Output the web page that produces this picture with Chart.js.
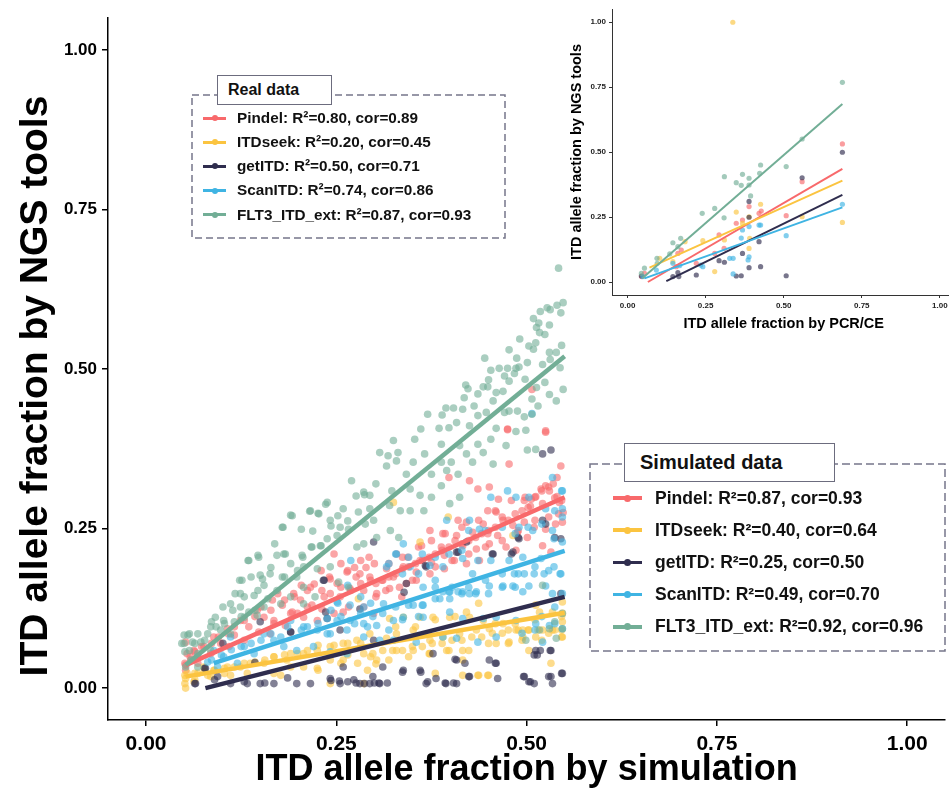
<!DOCTYPE html>
<html><head><meta charset="utf-8">
<script src="https://cdn.jsdelivr.net/npm/chart.js@4.4.1/dist/chart.umd.min.js"></script>
<style>
html,body{margin:0;padding:0;width:949px;height:792px;overflow:hidden;background:#fff;font-family:"Liberation Sans",Arial,sans-serif;}
#main{position:absolute;left:0;top:0;}
#inset{position:absolute;left:556px;top:0;}
#frames{position:absolute;left:0;top:0;}
.tab{position:absolute;background:#fff;border:1.5px solid #6c6c7e;font-weight:bold;color:#111;box-sizing:border-box;display:flex;align-items:center;}
.row{position:absolute;font-weight:bold;color:#111;white-space:nowrap;}
.key{position:absolute;}
.key .ln{position:absolute;left:0;right:0;top:50%;}
.key .dt{position:absolute;left:50%;top:50%;border-radius:50%;}
</style></head><body>
<canvas id="main" width="949" height="792"></canvas>
<canvas id="inset" width="402" height="340"></canvas>
<svg id="frames" width="949" height="792"></svg>
<div id="legends"></div>
<script>
// ---------- names, stats, ticks, titles ----------
const toolNames = ['Pindel','ITDseek','getITD','ScanITD','FLT3_ITD_ext'];
const toolColors = ['#F8696B','#FBC440','#2F2D4E','#3FB4E3','#72AE96'];
const realR2  = ['0.80','0.20','0.50','0.74','0.87'];
const realCor = ['0.89','0.45','0.71','0.86','0.93'];
const simR2   = ['0.87','0.40','0.25','0.49','0.92'];
const simCor  = ['0.93','0.64','0.50','0.70','0.96'];
const xTicks = [0, 0.25, 0.5, 0.75, 1];
const yTicks = [0, 0.25, 0.5, 0.75, 1];
const mainXTitle = 'ITD allele fraction by simulation';
const mainYTitle = 'ITD allele fraction by NGS tools';
const insetXTitle = 'ITD allele fraction by PCR/CE';
const insetYTitle = 'ITD allele fraction by NGS tools';

// ---------- simulated data (main panel) ----------
const simPindel = [[0.525,0.401],[0.475,0.406],[0.545,0.348],[0.477,0.351],[0.436,0.312],[0.451,0.315],[0.525,0.317],[0.519,0.312],[0.530,0.309],[0.425,0.325],[0.398,0.330],[0.506,0.296],[0.497,0.294],[0.543,0.291],[0.521,0.289],[0.449,0.278],[0.460,0.276],[0.410,0.263],[0.421,0.260],[0.443,0.257],[0.469,0.263],[0.482,0.255],[0.497,0.260],[0.510,0.252],[0.525,0.249],[0.538,0.257],[0.547,0.260],[0.373,0.247],[0.390,0.242],[0.408,0.239],[0.429,0.244],[0.449,0.242],[0.462,0.239],[0.488,0.244],[0.501,0.236],[0.362,0.223],[0.375,0.231],[0.388,0.221],[0.416,0.223],[0.434,0.218],[0.451,0.226],[0.473,0.221],[0.486,0.216],[0.521,0.223],[0.532,0.213],[0.329,0.210],[0.344,0.205],[0.360,0.200],[0.375,0.197],[0.392,0.208],[0.405,0.200],[0.421,0.195],[0.438,0.200],[0.300,0.195],[0.316,0.187],[0.338,0.190],[0.355,0.182],[0.373,0.179],[0.392,0.187],[0.264,0.182],[0.281,0.179],[0.294,0.174],[0.310,0.169],[0.325,0.174],[0.342,0.164],[0.355,0.169],[0.242,0.171],[0.251,0.164],[0.268,0.156],[0.286,0.153],[0.303,0.148],[0.320,0.156],[0.336,0.143],[0.216,0.158],[0.231,0.153],[0.242,0.148],[0.255,0.143],[0.266,0.127],[0.286,0.127],[0.299,0.117],[0.194,0.148],[0.203,0.138],[0.218,0.130],[0.231,0.124],[0.247,0.117],[0.259,0.119],[0.166,0.138],[0.179,0.130],[0.192,0.119],[0.207,0.111],[0.225,0.106],[0.146,0.122],[0.155,0.111],[0.168,0.106],[0.183,0.098],[0.124,0.106],[0.135,0.096],[0.148,0.088],[0.163,0.085],[0.107,0.093],[0.116,0.083],[0.129,0.075],[0.089,0.080],[0.098,0.070],[0.109,0.065],[0.076,0.065],[0.085,0.054],[0.063,0.059],[0.052,0.072],[0.054,0.054],[0.059,0.044],[0.052,0.036],[0.068,0.039],[0.052,0.028],[0.507,0.468],[0.475,0.405],[0.525,0.403],[0.540,0.330],[0.535,0.320],[0.512,0.300],[0.505,0.285],[0.548,0.275],[0.463,0.296],[0.540,0.300],
 [0.247,0.210],[0.256,0.195],[0.265,0.184],[0.276,0.174],[0.289,0.189],[0.282,0.200],[0.293,0.205],[0.295,0.169],[0.230,0.184],[0.241,0.174],[0.221,0.163],[0.212,0.153],[0.204,0.161],[0.195,0.143],[0.182,0.138],[0.173,0.148],[0.164,0.122],[0.151,0.127],[0.143,0.112],[0.129,0.106],[0.116,0.096],[0.108,0.085],[0.095,0.080],[0.086,0.070],[0.073,0.065],[0.064,0.057],[0.058,0.049],[0.051,0.039],[0.212,0.127],[0.199,0.117],[0.234,0.143],[0.256,0.158],[0.269,0.153],[0.282,0.164],[0.274,0.189],[0.190,0.117],[0.168,0.101],
 [0.546,0.294],[0.537,0.298],[0.529,0.315],[0.520,0.309],[0.511,0.299],[0.502,0.283],[0.494,0.278],[0.485,0.273],[0.476,0.263],[0.468,0.268],[0.459,0.252],[0.450,0.247],[0.441,0.242],[0.433,0.236],[0.424,0.231],[0.415,0.226],[0.406,0.231],[0.398,0.221],[0.389,0.216],[0.380,0.210],[0.372,0.205],[0.363,0.200],[0.354,0.195],[0.345,0.190],[0.337,0.187],[0.328,0.179],[0.319,0.174],[0.311,0.169],[0.302,0.164],[0.302,0.143],[0.315,0.153],[0.333,0.158],[0.350,0.169],[0.380,0.190],[0.402,0.200],[0.424,0.210],[0.446,0.221],[0.468,0.231],[0.489,0.247],[0.511,0.263],[0.529,0.268],[0.542,0.273],[0.498,0.299],[0.480,0.294],[0.459,0.278],[0.437,0.263],[0.415,0.252],[0.393,0.242],[0.358,0.221],[0.337,0.205],[0.319,0.195]];
const simITDseek = [[0.512,0.130],[0.547,0.135],[0.421,0.119],[0.517,0.119],[0.534,0.119],[0.547,0.117],[0.320,0.109],[0.338,0.111],[0.360,0.111],[0.377,0.111],[0.399,0.111],[0.425,0.111],[0.443,0.106],[0.469,0.101],[0.486,0.091],[0.495,0.091],[0.503,0.091],[0.521,0.091],[0.534,0.091],[0.547,0.080],[0.495,0.080],[0.512,0.080],[0.451,0.093],[0.434,0.091],[0.412,0.085],[0.390,0.080],[0.373,0.075],[0.395,0.059],[0.416,0.059],[0.460,0.070],[0.477,0.072],[0.351,0.091],[0.329,0.085],[0.316,0.078],[0.294,0.085],[0.277,0.075],[0.259,0.070],[0.329,0.059],[0.351,0.059],[0.373,0.054],[0.416,0.044],[0.503,0.059],[0.532,0.039],[0.436,0.020],[0.449,0.020],[0.242,0.065],[0.225,0.059],[0.207,0.054],[0.190,0.054],[0.286,0.054],[0.303,0.044],[0.259,0.044],[0.242,0.044],[0.225,0.031],[0.207,0.033],[0.185,0.044],[0.168,0.049],[0.155,0.039],[0.137,0.039],[0.124,0.033],[0.107,0.033],[0.089,0.028],[0.076,0.033],[0.068,0.023],[0.054,0.023],[0.052,0.015],[0.052,0.000],[0.063,0.010],[0.085,0.018],[0.111,0.020],[0.133,0.023],[0.177,0.020],[0.242,0.007],[0.286,0.007],[0.416,0.020],[0.547,0.104],[0.482,0.239],[0.397,0.268],[0.360,0.229],[0.325,0.291],[0.279,0.140],
 [0.282,0.070],[0.265,0.070],[0.247,0.067],[0.226,0.067],[0.212,0.059],[0.199,0.054],[0.182,0.052],[0.168,0.049],[0.156,0.044],[0.143,0.041],[0.129,0.039],[0.116,0.033],[0.103,0.031],[0.090,0.028],[0.077,0.026],[0.064,0.023],[0.051,0.020],[0.051,0.007],[0.064,0.013],[0.081,0.020],[0.103,0.023],[0.168,0.023],[0.190,0.033],[0.226,0.028],[0.256,0.039],[0.278,0.039],[0.295,0.049],[0.291,0.028],[0.265,0.052],
 [0.546,0.091],[0.537,0.091],[0.529,0.086],[0.515,0.091],[0.502,0.091],[0.489,0.091],[0.476,0.091],[0.468,0.086],[0.455,0.086],[0.441,0.080],[0.428,0.080],[0.415,0.075],[0.402,0.075],[0.389,0.070],[0.376,0.070],[0.363,0.065],[0.350,0.065],[0.337,0.059],[0.324,0.059],[0.311,0.059],[0.298,0.054],[0.546,0.080],[0.520,0.075],[0.494,0.075],[0.476,0.070],[0.450,0.070],[0.424,0.059],[0.398,0.059],[0.372,0.054],[0.345,0.049],[0.319,0.044],[0.302,0.038],[0.546,0.112],[0.511,0.107],[0.485,0.101],[0.459,0.101],[0.437,0.133],[0.406,0.112],[0.380,0.107],[0.354,0.096],[0.328,0.096],[0.437,0.020],[0.450,0.020],[0.380,0.023]];
const simGetITD = [[0.521,0.367],[0.532,0.373],[0.521,0.263],[0.525,0.257],[0.490,0.234],[0.545,0.234],[0.482,0.213],[0.456,0.210],[0.408,0.213],[0.368,0.190],[0.299,0.229],[0.421,0.229],[0.342,0.164],[0.233,0.169],[0.281,0.124],[0.238,0.109],[0.190,0.088],[0.150,0.104],[0.255,0.091],[0.545,0.148],[0.299,0.075],[0.377,0.054],[0.408,0.044],[0.451,0.044],[0.460,0.039],[0.512,0.059],[0.532,0.059],[0.510,0.052],[0.259,0.033],[0.338,0.028],[0.360,0.028],[0.078,0.031],[0.094,0.018],[0.065,0.007],[0.111,0.007],[0.133,0.007],[0.150,0.007],[0.168,0.007],[0.198,0.007],[0.216,0.007],[0.242,0.015],[0.255,0.007],[0.273,0.013],[0.281,0.007],[0.294,0.007],[0.307,0.007],[0.368,0.007],[0.381,0.015],[0.394,0.007],[0.408,0.007],[0.425,0.018],[0.462,0.015],[0.497,0.018],[0.503,0.010],[0.510,0.007],[0.532,0.018],[0.534,0.007],[0.547,0.023],
 [0.064,0.007],[0.090,0.013],[0.129,0.010],[0.156,0.008],[0.186,0.016],[0.243,0.012],[0.254,0.011],[0.265,0.010],[0.276,0.008],[0.287,0.007],[0.143,0.040],[0.190,0.088],[0.236,0.119],[0.234,0.169],[0.101,0.070],[0.077,0.031],
 [0.367,0.192],[0.339,0.150],[0.410,0.213],[0.455,0.210],[0.489,0.236],[0.537,0.236],[0.480,0.210],[0.518,0.059],[0.531,0.059],[0.514,0.052],[0.406,0.045],[0.419,0.039],[0.459,0.039],[0.424,0.018],[0.496,0.018],[0.505,0.010],[0.529,0.018],[0.546,0.023],[0.300,0.008],[0.306,0.008],[0.317,0.008],[0.393,0.008],[0.404,0.008],[0.370,0.010],[0.311,0.033],[0.337,0.025],[0.361,0.025],[0.298,0.018]];
const simScanITD = [[0.534,0.330],[0.547,0.309],[0.475,0.309],[0.453,0.299],[0.486,0.299],[0.503,0.299],[0.525,0.281],[0.547,0.281],[0.547,0.268],[0.425,0.263],[0.438,0.249],[0.490,0.252],[0.508,0.247],[0.534,0.247],[0.547,0.229],[0.536,0.234],[0.395,0.263],[0.338,0.226],[0.329,0.210],[0.347,0.190],[0.316,0.190],[0.373,0.192],[0.390,0.190],[0.416,0.203],[0.436,0.200],[0.453,0.200],[0.477,0.200],[0.495,0.205],[0.519,0.203],[0.536,0.190],[0.484,0.179],[0.497,0.179],[0.510,0.179],[0.523,0.179],[0.545,0.179],[0.429,0.179],[0.364,0.158],[0.380,0.158],[0.416,0.151],[0.434,0.151],[0.451,0.160],[0.469,0.160],[0.482,0.160],[0.503,0.160],[0.525,0.160],[0.390,0.151],[0.399,0.151],[0.410,0.151],[0.425,0.148],[0.399,0.140],[0.386,0.140],[0.495,0.151],[0.534,0.148],[0.547,0.148],[0.364,0.130],[0.351,0.130],[0.312,0.132],[0.286,0.127],[0.268,0.130],[0.251,0.135],[0.238,0.109],[0.251,0.106],[0.268,0.106],[0.286,0.101],[0.303,0.098],[0.325,0.106],[0.338,0.111],[0.364,0.111],[0.399,0.119],[0.416,0.109],[0.443,0.109],[0.460,0.111],[0.486,0.106],[0.512,0.101],[0.530,0.098],[0.547,0.093],[0.190,0.106],[0.207,0.096],[0.225,0.091],[0.242,0.085],[0.264,0.091],[0.286,0.080],[0.307,0.075],[0.325,0.075],[0.355,0.072],[0.390,0.080],[0.408,0.078],[0.436,0.072],[0.460,0.080],[0.521,0.072],[0.155,0.085],[0.168,0.075],[0.181,0.065],[0.198,0.059],[0.220,0.065],[0.242,0.057],[0.264,0.054],[0.111,0.080],[0.129,0.065],[0.142,0.054],[0.089,0.059],[0.102,0.049],[0.081,0.041],[0.094,0.033],[0.120,0.039],[0.068,0.049],[0.507,0.430],
 [0.269,0.200],[0.265,0.161],[0.282,0.143],[0.295,0.133],[0.243,0.122],[0.256,0.112],[0.274,0.101],[0.291,0.096],[0.226,0.101],[0.212,0.096],[0.204,0.091],[0.186,0.096],[0.177,0.080],[0.164,0.085],[0.151,0.075],[0.138,0.070],[0.125,0.065],[0.112,0.060],[0.099,0.052],[0.086,0.044],[0.238,0.085],[0.282,0.117],[0.252,0.133],
 [0.546,0.309],[0.537,0.278],[0.520,0.257],[0.502,0.252],[0.485,0.242],[0.468,0.252],[0.446,0.247],[0.424,0.247],[0.415,0.216],[0.398,0.210],[0.380,0.205],[0.363,0.210],[0.345,0.205],[0.328,0.210],[0.319,0.195],[0.337,0.179],[0.358,0.179],[0.380,0.169],[0.402,0.158],[0.424,0.158],[0.446,0.169],[0.468,0.179],[0.489,0.179],[0.511,0.190],[0.529,0.184],[0.544,0.179],[0.485,0.158],[0.468,0.158],[0.450,0.148],[0.433,0.148],[0.415,0.148],[0.398,0.151],[0.380,0.140],[0.363,0.130],[0.345,0.130],[0.328,0.127],[0.311,0.117],[0.298,0.112],[0.319,0.091],[0.337,0.107],[0.358,0.112],[0.520,0.112],[0.537,0.101],[0.511,0.091],[0.494,0.086],[0.537,0.127]];
const simFLT3 = [[0.542,0.658],[0.548,0.604],[0.540,0.600],[0.527,0.596],[0.518,0.590],[0.531,0.593],[0.545,0.588],[0.509,0.579],[0.516,0.572],[0.530,0.569],[0.513,0.565],[0.524,0.554],[0.517,0.557],[0.491,0.547],[0.503,0.536],[0.512,0.541],[0.509,0.531],[0.546,0.537],[0.477,0.530],[0.487,0.517],[0.445,0.517],[0.464,0.501],[0.475,0.501],[0.486,0.501],[0.490,0.503],[0.453,0.498],[0.501,0.510],[0.530,0.526],[0.539,0.526],[0.521,0.507],[0.531,0.515],[0.544,0.502],[0.471,0.489],[0.484,0.493],[0.450,0.483],[0.477,0.481],[0.498,0.484],[0.420,0.475],[0.443,0.472],[0.449,0.472],[0.423,0.469],[0.524,0.479],[0.513,0.471],[0.436,0.461],[0.460,0.463],[0.469,0.465],[0.530,0.460],[0.548,0.468],[0.539,0.450],[0.418,0.455],[0.456,0.450],[0.507,0.453],[0.370,0.429],[0.389,0.428],[0.394,0.439],[0.404,0.439],[0.416,0.437],[0.431,0.442],[0.436,0.427],[0.447,0.432],[0.471,0.432],[0.477,0.434],[0.488,0.434],[0.497,0.425],[0.507,0.429],[0.515,0.442],[0.361,0.406],[0.385,0.407],[0.398,0.408],[0.408,0.416],[0.425,0.411],[0.460,0.407],[0.486,0.402],[0.499,0.404],[0.353,0.390],[0.325,0.388],[0.388,0.382],[0.412,0.380],[0.436,0.382],[0.453,0.390],[0.473,0.380],[0.501,0.373],[0.512,0.374],[0.307,0.369],[0.318,0.364],[0.331,0.369],[0.366,0.367],[0.421,0.367],[0.443,0.369],[0.316,0.348],[0.329,0.356],[0.351,0.354],[0.388,0.354],[0.401,0.354],[0.429,0.354],[0.456,0.351],[0.270,0.325],[0.302,0.320],[0.342,0.335],[0.375,0.335],[0.395,0.341],[0.410,0.335],[0.286,0.307],[0.294,0.302],[0.323,0.309],[0.347,0.312],[0.360,0.302],[0.375,0.299],[0.388,0.317],[0.399,0.289],[0.412,0.299],[0.216,0.278],[0.227,0.273],[0.238,0.291],[0.259,0.281],[0.279,0.276],[0.294,0.281],[0.320,0.286],[0.334,0.278],[0.347,0.278],[0.365,0.278],[0.179,0.252],[0.192,0.270],[0.242,0.263],[0.255,0.252],[0.266,0.249],[0.288,0.257],[0.299,0.263],[0.303,0.236],[0.321,0.247],[0.332,0.236],[0.135,0.200],[0.148,0.205],[0.172,0.208],[0.183,0.210],[0.205,0.208],[0.218,0.221],[0.229,0.223],[0.238,0.234],[0.251,0.239],[0.277,0.221],[0.286,0.226],[0.126,0.169],[0.150,0.177],[0.163,0.179],[0.179,0.174],[0.198,0.174],[0.207,0.190],[0.225,0.187],[0.242,0.190],[0.253,0.166],[0.266,0.158],[0.124,0.148],[0.142,0.145],[0.155,0.161],[0.172,0.153],[0.190,0.143],[0.207,0.158],[0.222,0.143],[0.111,0.132],[0.124,0.127],[0.135,0.119],[0.155,0.127],[0.177,0.132],[0.207,0.132],[0.091,0.111],[0.102,0.106],[0.116,0.104],[0.129,0.111],[0.146,0.114],[0.085,0.096],[0.098,0.091],[0.111,0.085],[0.081,0.085],[0.050,0.083],[0.057,0.085],[0.061,0.072],[0.072,0.072],[0.050,0.070],[0.057,0.059],[0.068,0.054],[0.085,0.059],[0.059,0.044],[0.052,0.033],[0.068,0.033],[0.517,0.091],[0.530,0.093],[0.547,0.093],[0.521,0.161],[0.547,0.117],[0.499,0.075],[0.539,0.078],
 [0.190,0.271],[0.215,0.277],[0.226,0.274],[0.236,0.288],[0.252,0.270],[0.180,0.252],[0.204,0.249],[0.219,0.246],[0.243,0.254],[0.265,0.262],[0.276,0.301],[0.287,0.303],[0.217,0.221],[0.230,0.223],[0.169,0.226],[0.181,0.210],[0.134,0.200],[0.147,0.208],[0.164,0.189],[0.190,0.195],[0.206,0.205],[0.123,0.169],[0.138,0.174],[0.153,0.171],[0.182,0.174],[0.199,0.184],[0.117,0.148],[0.129,0.143],[0.147,0.153],[0.160,0.140],[0.101,0.127],[0.114,0.122],[0.125,0.112],[0.143,0.122],[0.086,0.104],[0.092,0.096],[0.103,0.101],[0.068,0.085],[0.077,0.075],[0.055,0.083],[0.047,0.070],[0.051,0.057],[0.064,0.070],[0.537,0.104]];
// fitted regression lines (start, end)
const simFitPindel  = [[0.052,0.036],[0.550,0.299]];
const simFitITDseek = [[0.052,0.018],[0.550,0.118]];
const simFitGetITD  = [[0.078,0.000],[0.550,0.143]];
const simFitScanITD = [[0.089,0.039],[0.550,0.215]];
const simFitFLT3    = [[0.052,0.036],[0.550,0.520]];

// ---------- real data (inset) ----------
const realPindel = [[0.688,0.531],[0.559,0.386],[0.508,0.255],[0.421,0.264],[0.428,0.273],[0.389,0.290],[0.368,0.238],[0.348,0.226],[0.309,0.129],[0.293,0.181],[0.172,0.123],[0.161,0.110],[0.156,0.059],[0.054,0.033],[0.045,0.021],[0.220,0.072],[0.279,0.110]];
const realITDseek = [[0.337,0.999],[0.688,0.229],[0.559,0.251],[0.426,0.299],[0.348,0.269],[0.389,0.251],[0.368,0.226],[0.389,0.129],[0.391,0.168],[0.241,0.159],[0.279,0.040],[0.145,0.078],[0.103,0.091],[0.184,0.155],[0.310,0.162]];
const realGetITD = [[0.688,0.499],[0.559,0.401],[0.389,0.310],[0.389,0.249],[0.421,0.155],[0.426,0.059],[0.389,0.055],[0.368,0.110],[0.364,0.024],[0.348,0.023],[0.310,0.076],[0.293,0.082],[0.220,0.027],[0.145,0.021],[0.161,0.036],[0.164,0.021],[0.508,0.024],[0.044,0.023]];
const realScanITD = [[0.688,0.299],[0.508,0.178],[0.421,0.219],[0.426,0.219],[0.389,0.213],[0.368,0.200],[0.364,0.169],[0.389,0.097],[0.386,0.085],[0.338,0.091],[0.327,0.091],[0.338,0.031],[0.241,0.059],[0.234,0.065],[0.167,0.063],[0.145,0.072],[0.092,0.046],[0.049,0.021]];
const realFLT3 = [[0.688,0.768],[0.559,0.550],[0.508,0.444],[0.426,0.450],[0.423,0.418],[0.368,0.414],[0.348,0.382],[0.364,0.372],[0.389,0.399],[0.389,0.373],[0.394,0.331],[0.310,0.405],[0.279,0.283],[0.309,0.247],[0.239,0.264],[0.170,0.168],[0.145,0.151],[0.161,0.136],[0.135,0.108],[0.094,0.091],[0.095,0.072],[0.054,0.053],[0.044,0.033]];
const realFitPindel  = [[0.065,0.000],[0.688,0.435]];
const realFitITDseek = [[0.070,0.055],[0.688,0.390]];
const realFitGetITD  = [[0.124,0.003],[0.688,0.335]];
const realFitScanITD = [[0.054,0.014],[0.688,0.287]];
const realFitFLT3    = [[0.047,0.014],[0.688,0.685]];

// ---------- helpers ----------
function rgba(hex,a){const n=parseInt(hex.slice(1),16);return `rgba(${n>>16},${(n>>8)&255},${n&255},${a})`;}
const toXY = arr => arr.map(p=>({x:p[0],y:p[1]}));
const SANS = '"Liberation Sans",Arial,sans-serif';

function buildDatasets(pts, fits, ptRadius, alpha, lineW){
  const ds=[];
  pts.forEach((arr,i)=>ds.push({data:toXY(arr),backgroundColor:rgba(toolColors[i],alpha),borderWidth:0,pointRadius:ptRadius,pointHoverRadius:ptRadius,order:10-i}));
  fits.forEach((arr,i)=>ds.push({data:toXY(arr),showLine:true,borderColor:toolColors[i],borderWidth:lineW,pointRadius:0,fill:false,order:4-i}));
  return ds;
}
function axis(ticks, o){
  return {
    type:'linear', min:-0.05, max:1.05,
    afterBuildTicks:s=>{s.ticks=ticks.map(v=>({value:v}));},
    ticks:{callback:v=>Number(v).toFixed(2),color:o.tickColor,font:o.tickFont,padding:o.tickPad,maxRotation:0,autoSkip:false},
    grid:{drawOnChartArea:false,drawTicks:true,tickLength:o.tickLen,color:o.lineColor,lineWidth:o.lineW},
    border:{display:true,color:o.lineColor,width:o.lineW},
    title:{display:!!o.title,text:o.title||'',color:'#000',font:o.titleFont,padding:o.titlePad},
    afterFit:o.afterFit
  };
}
// rotated y-axis title for the main panel (placed a bit below the axis centre, as in the source figure)
const mainYTitlePlugin = {id:'mainYTitle', afterDraw(chart){
  const c=chart.ctx; c.save(); c.translate(36,386); c.rotate(-Math.PI/2);
  c.font='bold 39px '+SANS; c.fillStyle='#000'; c.textAlign='center'; c.textBaseline='middle';
  c.fillText(mainYTitle,0,0); c.restore();
}};

// ---------- main chart ----------
new Chart(document.getElementById('main'),{
  type:'scatter',
  data:{datasets:buildDatasets([simPindel,simITDseek,simGetITD,simScanITD,simFLT3],[simFitPindel,simFitITDseek,simFitGetITD,simFitScanITD,simFitFLT3],3.8,0.6,4.5)},
  options:{
    responsive:false, animation:false, events:[],
    layout:{padding:{left:0,right:1,top:18,bottom:0}},
    plugins:{legend:{display:false},tooltip:{enabled:false}},
    scales:{
      x:axis(xTicks,{tickColor:'#000',tickFont:{family:SANS,weight:'bold',size:21},tickPad:6,tickLen:6,lineColor:'#000',lineW:1.5,
        title:mainXTitle,titleFont:{family:SANS,weight:'bold',size:36},titlePad:{top:0,bottom:0},afterFit:s=>{s.height=72;}}),
      y:axis(yTicks,{tickColor:'#000',tickFont:{family:SANS,weight:'bold',size:17},tickPad:5,tickLen:6,lineColor:'#000',lineW:1.5,
        title:'',afterFit:s=>{s.width=108;}})
    }
  },
  plugins:[mainYTitlePlugin]
});

// ---------- inset chart ----------
new Chart(document.getElementById('inset'),{
  type:'scatter',
  data:{datasets:buildDatasets([realPindel,realITDseek,realGetITD,realScanITD,realFLT3],[realFitPindel,realFitITDseek,realFitGetITD,realFitScanITD,realFitFLT3],2.6,0.65,2)},
  options:{
    responsive:false, animation:false, events:[],
    layout:{padding:{left:0,right:2,top:9,bottom:0}},
    plugins:{legend:{display:false},tooltip:{enabled:false}},
    scales:{
      x:axis(xTicks,{tickColor:'#222',tickFont:{family:SANS,weight:'bold',size:8},tickPad:3,tickLen:3,lineColor:'#333',lineW:1,
        title:insetXTitle,titleFont:{family:SANS,weight:'bold',size:14.5},titlePad:{top:0,bottom:7},afterFit:s=>{s.height=45;}}),
      y:axis(yTicks,{tickColor:'#222',tickFont:{family:SANS,weight:'bold',size:8},tickPad:3,tickLen:3,lineColor:'#333',lineW:1,
        title:insetYTitle,titleFont:{family:SANS,weight:'bold',size:14.5},titlePad:{top:12,bottom:0},afterFit:s=>{s.width=56;}})
    }
  }
});

// ---------- legends ----------
const svgNS='http://www.w3.org/2000/svg';
const frames=document.getElementById('frames');
const legends=document.getElementById('legends');
function buildLegend(c, r2, cor){
  const rect=document.createElementNS(svgNS,'rect');
  rect.setAttribute('x',c.box[0]);rect.setAttribute('y',c.box[1]);
  rect.setAttribute('width',c.box[2]);rect.setAttribute('height',c.box[3]);
  rect.setAttribute('fill','none');rect.setAttribute('stroke','#76768a');
  rect.setAttribute('stroke-width','1.5');rect.setAttribute('stroke-dasharray',c.dash);
  frames.appendChild(rect);
  const tab=document.createElement('div');tab.className='tab';
  Object.assign(tab.style,{left:c.tab[0]+'px',top:c.tab[1]+'px',width:c.tab[2]+'px',height:c.tab[3]+'px',fontSize:c.tabFont+'px',paddingLeft:c.tabPad+'px'});
  tab.textContent=c.title;legends.appendChild(tab);
  toolNames.forEach((name,i)=>{
    const cy=c.row0+i*c.rowStep;
    const key=document.createElement('div');key.className='key';
    Object.assign(key.style,{left:c.keyL+'px',top:(cy-6)+'px',width:c.keyW+'px',height:'12px'});
    const ln=document.createElement('div');ln.className='ln';
    Object.assign(ln.style,{background:toolColors[i],height:c.keyLine+'px',marginTop:(-c.keyLine/2)+'px'});
    const dt=document.createElement('div');dt.className='dt';
    Object.assign(dt.style,{width:c.dot+'px',height:c.dot+'px',marginLeft:(-c.dot/2)+'px',marginTop:(-c.dot/2)+'px',background:toolColors[i]});
    key.appendChild(ln);key.appendChild(dt);legends.appendChild(key);
    const row=document.createElement('div');row.className='row';
    Object.assign(row.style,{left:c.textL+'px',top:(cy-c.font*0.6)+'px',fontSize:c.font+'px',lineHeight:(c.font*1.2)+'px'});
    row.textContent=`${name}: R\u00B2=${r2[i]}, cor=${cor[i]}`;
    legends.appendChild(row);
  });
}
buildLegend({box:[192,95,313,143],dash:'7 4',tab:[217,75,115,30],tabFont:16,tabPad:10,title:'Real data',
  row0:118,rowStep:24.2,keyL:203,keyW:23,keyLine:3,dot:6,textL:237,font:15.3},realR2,realCor);
buildLegend({box:[590,464,355,187],dash:'8 4',tab:[624,443,211,39],tabFont:20,tabPad:15,title:'Simulated data',
  row0:498,rowStep:32.2,keyL:613,keyW:29,keyLine:3.5,dot:7,textL:655,font:17.5},simR2,simCor);
</script>
</body></html>
